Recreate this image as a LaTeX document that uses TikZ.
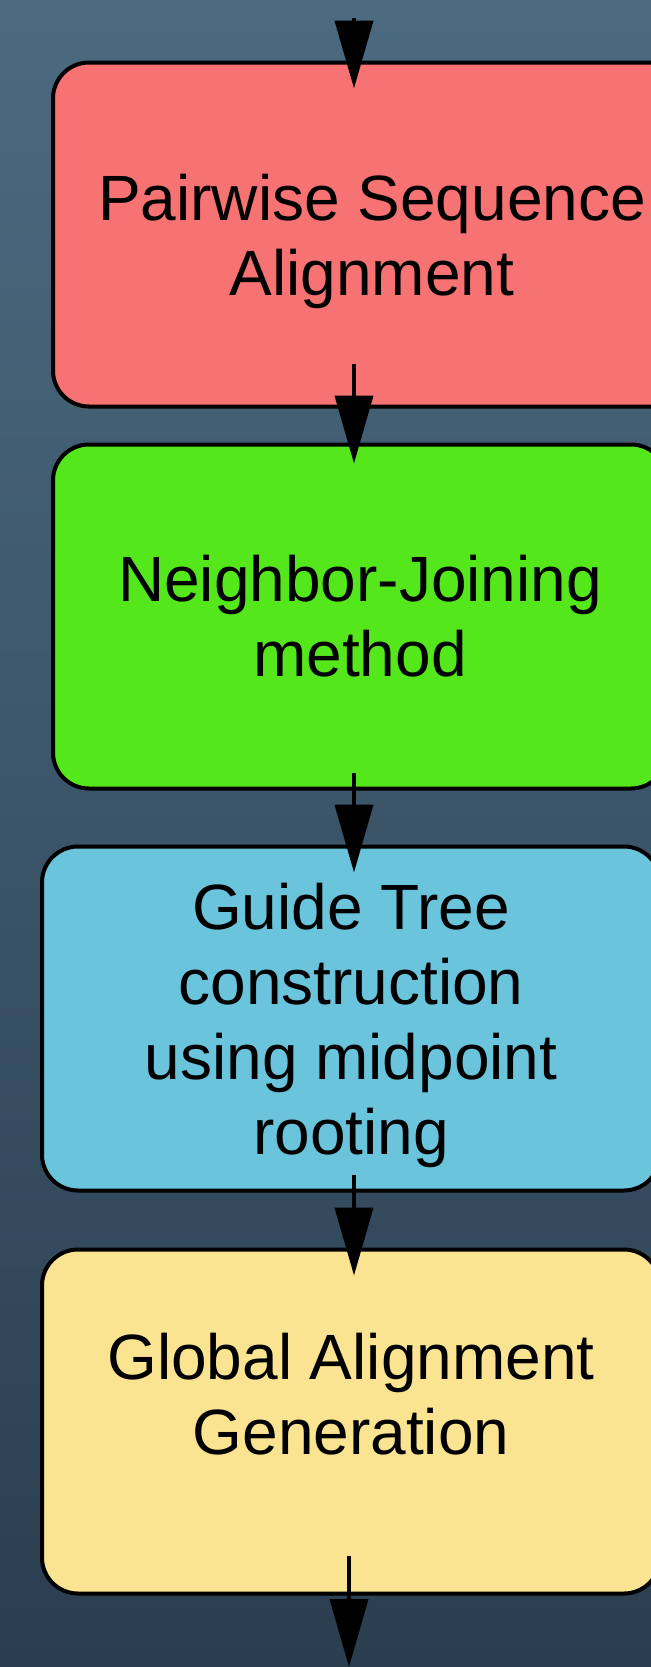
\documentclass[tikz,border=0pt]{standalone}
\usepackage{fontspec}
\setmainfont{Liberation Sans}
\usetikzlibrary{positioning,arrows.meta}
\definecolor{bgtop}{RGB}{75,106,128}
\definecolor{bgbot}{RGB}{43,62,80}
\definecolor{pairred}{RGB}{247,114,114}
\definecolor{njgreen}{RGB}{84,231,27}
\definecolor{treeblue}{RGB}{106,196,220}
\definecolor{globyellow}{RGB}{250,228,145}
\begin{document}
\begin{tikzpicture}[
        stepbox/.style = {draw, line width=2pt, rounded corners=18pt, align=center,
            minimum width=309pt, minimum height=172pt, inner sep=0pt, outer sep=0pt,
            font=\fontsize{32pt}{37.5pt}\selectfont},
        flow/.style = {line width=2pt, -{Triangle[length=34pt,width=19pt]}}
    ]
    \fill [top color=bgtop, bottom color=bgbot] (0,0) rectangle (325.5pt,-833.5pt);
    \useasboundingbox (0,0) rectangle (325.5pt,-833.5pt);
    \node [stepbox, fill=pairred, minimum width=319pt, text depth=0pt] (pair) at (186pt,-117.25pt)
        {Pairwise Sequence\\Alignment};
    \node [stepbox, fill=njgreen, minimum width=307pt, below=19pt of pair, xshift=-6pt] (nj)
        {Neighbor-Joining\\method};
    \node [stepbox, fill=treeblue, text depth=-5pt, below=29pt of nj, xshift=-4.5pt] (tree)
        {Guide Tree\\construction\\using midpoint\\rooting};
    \node [stepbox, fill=globyellow, text depth=28pt, below=29.5pt of tree] (glob)
        {Global Alignment\\Generation};
    \coordinate (src) at (177pt,-9pt);
    \coordinate (sink) at (174.5pt,-833.5pt);
    \draw [flow] (src) -- ([xshift=-9pt,yshift=-13pt]pair.north);
    \draw [flow] ([xshift=-9pt,yshift=21.5pt]pair.south) -- ([xshift=-3pt,yshift=-9.5pt]nj.north);
    \draw [flow] ([xshift=-3pt,yshift=8pt]nj.south) -- ([xshift=1.5pt,yshift=-13pt]tree.north);
    \draw [flow] ([xshift=1.5pt,yshift=8pt]tree.south) -- ([xshift=1.5pt,yshift=-13pt]glob.north);
    \draw [flow] ([xshift=-1pt,yshift=19pt]glob.south) -- (sink);
\end{tikzpicture}
\end{document}
